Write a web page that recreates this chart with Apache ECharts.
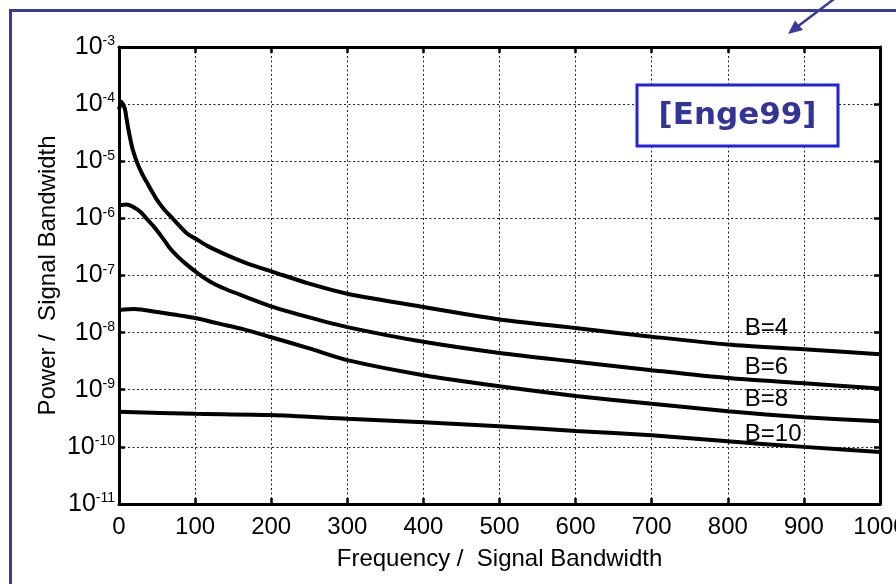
<!DOCTYPE html>
<html>
<head>
<meta charset="utf-8">
<title>Power / Signal Bandwidth</title>
<script src="https://cdn.jsdelivr.net/npm/echarts@6/dist/echarts.min.js"></script>
<style>
  html, body { margin: 0; padding: 0; background: #fff; }
  #chart { width: 896px; height: 584px; }
</style>
</head>
<body>
<div id="chart"></div>
<script>
// values (frequency / signal bandwidth -> power / signal bandwidth)
const freqB4 = [0, 3, 6, 8, 10, 12, 15, 18, 22, 26, 31, 36, 43, 51, 60, 71, 89, 102, 116, 141, 170, 203, 250, 300, 400, 500, 600, 700, 800, 900, 1000]
const powB4 = [8e-5, 1.1e-4, 9.5e-5, 8e-5, 5.5e-5, 3.8e-5, 2.4e-5, 1.6e-5, 1.1e-5, 8e-6, 5.8e-6, 4.4e-6, 3e-6, 2e-6, 1.4e-6, 9.8e-7, 5.5e-7, 4.3e-7, 3.3e-7, 2.3e-7, 1.6e-7, 1.15e-7, 7.2e-8, 4.8e-8, 2.8e-8, 1.7e-8, 1.2e-8, 8.5e-9, 6.2e-9, 5.1e-9, 4.2e-9]

const freqB6 = [0, 10, 20, 28, 36, 45, 56, 67, 78, 89, 104, 120, 140, 163, 203, 250, 300, 400, 500, 600, 700, 800, 900, 1000]
const powB6 = [1.7e-6, 1.75e-6, 1.55e-6, 1.3e-6, 1e-6, 7.4e-7, 4.8e-7, 3e-7, 2.1e-7, 1.55e-7, 1.08e-7, 7.8e-8, 5.8e-8, 4.4e-8, 2.8e-8, 1.85e-8, 1.25e-8, 6.9e-9, 4.4e-9, 3.1e-9, 2.2e-9, 1.6e-9, 1.3e-9, 1.05e-9]

const freqB8 = [0, 20, 50, 100, 130, 163, 200, 250, 300, 400, 500, 600, 700, 800, 900, 1000]
const powB8 = [2.5e-8, 2.6e-8, 2.3e-8, 1.8e-8, 1.45e-8, 1.15e-8, 8.3e-9, 5.3e-9, 3.3e-9, 1.8e-9, 1.15e-9, 7.8e-10, 5.7e-10, 4.2e-10, 3.3e-10, 2.8e-10]

const freqB10 = [0, 100, 200, 300, 400, 500, 600, 700, 800, 900, 1000]
const powB10 = [4.1e-10, 3.8e-10, 3.6e-10, 3.1e-10, 2.7e-10, 2.3e-10, 1.9e-10, 1.6e-10, 1.25e-10, 1.0e-10, 8.1e-11]

const curveNames = ['B=4', 'B=6', 'B=8', 'B=10']
const xMin = 0, xMax = 1000, xStep = 100
const yMinExp = -11, yMaxExp = -3
const gridMantissas = [2, 5, 8]   // extra dotted lines inside each decade
const labelAtFreq = 800           // curve labels hang off this point

const FONT = '"Liberation Sans", Arial, sans-serif'
const FS = 24
const DOT = [2, 2.5]

let pairs = (f, p) => f.map((x, i) => [x, p[i]])

let minorLines = []
for (let e = yMinExp; e < yMaxExp; e++) {
  gridMantissas.forEach(m => minorLines.push({ yAxis: m * Math.pow(10, e) }))
}

// label offsets (px) relative to the point at labelAtFreq
const labelPos = [[17, -28], [17, -23], [17, -24], [17, -19]]

let makeSeries = (name, f, p, idx) => {
  let k = f.indexOf(labelAtFreq)
  let s = {
    name: name,
    type: 'line',
    data: pairs(f, p),
    showSymbol: false,
    smooth: 0.25,
    lineStyle: { color: '#000', width: 4 },
    itemStyle: { color: '#000' },
    z: 5,
    markPoint: {
      silent: true,
      symbol: 'circle',
      symbolSize: 0,
      itemStyle: { color: 'rgba(0,0,0,0)' },
      label: {
        show: true,
        position: labelPos[idx],
        formatter: name,
        fontFamily: FONT,
        fontSize: FS,
        color: '#000'
      },
      data: [{ coord: [f[k], p[k]] }]
    }
  }
  if (idx === 0) {
    s.markLine = {
      silent: true,
      symbol: 'none',
      label: { show: false },
      emphasis: { disabled: true },
      lineStyle: { color: '#222', width: 1, type: DOT },
      data: minorLines,
      z: 1
    }
  }
  return s
}

let chart = echarts.init(document.getElementById('chart'), null, { renderer: 'canvas' })

let option = {
  animation: false,
  backgroundColor: '#fff',
  grid: { left: 119, right: 16, top: 47, bottom: 80, outerBoundsMode: 'none', containLabel: false },
  xAxis: [
    {
      type: 'value', min: xMin, max: xMax, interval: xStep, position: 'bottom',
      axisLine: { show: true, onZero: false, lineStyle: { color: '#000', width: 3 } },
      axisTick: { show: true, inside: true, length: 6, lineStyle: { color: '#000', width: 2.5 } },
      axisLabel: { fontFamily: FONT, fontSize: FS, color: '#000', margin: 11, formatter: v => String(v) },
      splitLine: { show: true, lineStyle: { color: '#222', width: 1, type: DOT } },
      name: 'Frequency /  Signal Bandwidth',
      nameLocation: 'middle',
      nameGap: 43,
      nameMoveOverlap: false,
      nameTextStyle: { fontFamily: FONT, fontSize: FS, color: '#000' }
    },
    {
      type: 'value', min: xMin, max: xMax, interval: xStep, position: 'top',
      axisLine: { show: true, onZero: false, lineStyle: { color: '#000', width: 3 } },
      axisTick: { show: true, inside: true, length: 6, lineStyle: { color: '#000', width: 2.5 } },
      axisLabel: { show: false },
      splitLine: { show: false }
    }
  ],
  yAxis: [
    {
      type: 'log', logBase: 10, min: Math.pow(10, yMinExp), max: Math.pow(10, yMaxExp), splitNumber: 8,
      position: 'left',
      axisLine: { show: true, onZero: false, lineStyle: { color: '#000', width: 3 } },
      axisTick: { show: true, inside: true, length: 6, lineStyle: { color: '#000', width: 2.5 } },
      axisLabel: {
        margin: 4,
        formatter: v => '{b|10}{s|' + Math.round(Math.log10(v)) + '}',
        rich: {
          b: { fontFamily: FONT, fontSize: FS + 1, color: '#000' },
          s: { fontFamily: FONT, fontSize: 14, color: '#000', verticalAlign: 'top' }
        }
      },
      splitLine: { show: true, lineStyle: { color: '#222', width: 1, type: DOT } },
      name: 'Power /  Signal Bandwidth',
      nameLocation: 'middle',
      nameGap: 59,
      nameMoveOverlap: false,
      nameTextStyle: { fontFamily: FONT, fontSize: FS, color: '#000' }
    },
    {
      type: 'log', logBase: 10, min: Math.pow(10, yMinExp), max: Math.pow(10, yMaxExp), splitNumber: 8,
      position: 'right',
      axisLine: { show: true, onZero: false, lineStyle: { color: '#000', width: 3 } },
      axisTick: { show: true, inside: true, length: 6, lineStyle: { color: '#000', width: 2.5 } },
      axisLabel: { show: false },
      splitLine: { show: false }
    }
  ],
  series: [
    makeSeries(curveNames[0], freqB4, powB4, 0),
    makeSeries(curveNames[1], freqB6, powB6, 1),
    makeSeries(curveNames[2], freqB8, powB8, 2),
    makeSeries(curveNames[3], freqB10, powB10, 3)
  ],
  graphic: [
    // slide frame
    { type: 'line', z: 100, shape: { x1: 9, y1: 10.5, x2: 896, y2: 10.5 }, style: { stroke: '#3a3a99', lineWidth: 3 } },
    { type: 'line', z: 100, shape: { x1: 10.5, y1: 9, x2: 10.5, y2: 584 }, style: { stroke: '#3a3a99', lineWidth: 3 } },
    // arrow
    { type: 'line', z: 100, shape: { x1: 838, y1: -4, x2: 797, y2: 27 }, style: { stroke: '#3a3a99', lineWidth: 2.5 } },
    { type: 'polygon', z: 100, shape: { points: [[788, 34], [795, 20.5], [803, 30]] }, style: { fill: '#3a3a99' } },
    // citation box
    {
      type: 'rect', z: 100,
      shape: { x: 637, y: 85, width: 201, height: 61 },
      style: { fill: '#fff', stroke: '#2121e6', lineWidth: 3 }
    },
    {
      type: 'text', z: 101,
      x: 737.5, y: 116,
      style: {
        text: '[Enge99]',
        fill: '#333399',
        font: 'bold 31px "DejaVu Sans", Verdana, sans-serif',
        align: 'center',
        verticalAlign: 'middle'
      }
    }
  ]
}

chart.setOption(option)
</script>
</body>
</html>
